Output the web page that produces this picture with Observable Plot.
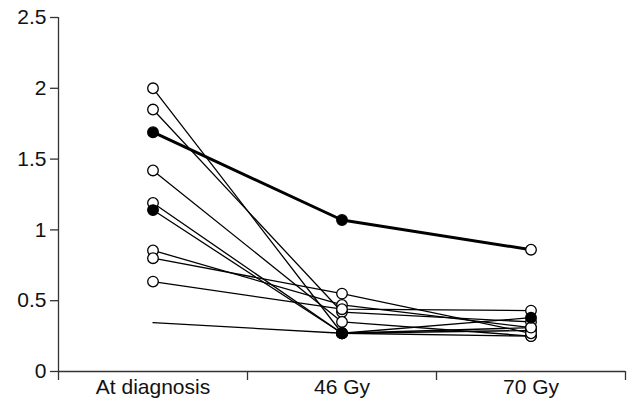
<!DOCTYPE html>
<html>
<head>
<meta charset="utf-8">
<script src="https://cdn.jsdelivr.net/npm/d3@7"></script>
<script src="https://cdn.jsdelivr.net/npm/@observablehq/plot@0.6"></script>
<style>
  html, body { margin: 0; padding: 0; background: #fff; }
</style>
</head>
<body>
<div id="chart"></div>
<script>
// Categories and tick labels
const categories = ["At diagnosis", "46 Gy", "70 Gy"];
const yTicks = [0, 0.5, 1, 1.5, 2, 2.5];

// Series values (one entry per patient)
const atDiagnosis = [1.69, 2.00, 1.85, 1.42, 1.19, 1.14, 0.855, 0.80, 0.635, 0.345];
const gy46        = [1.07, 0.27, 0.42, 0.35, 0.27, 0.27, 0.47, 0.55, 0.44, 0.27];
const gy70        = [0.86, 0.29, 0.35, 0.25, 0.25, 0.38, 0.31, 0.27, 0.43, 0.31];

// Marker type per point
const markerDiag = ["filled", "open", "open", "open", "open", "filled", "open", "open", "open", "none"];
const marker46   = ["filled", "open", "open", "open", "open", "filled", "open", "open", "open", "open"];
const marker70   = ["open", "open", "open", "open", "open", "filled", "open", "open", "open", "open"];

// Which series is drawn with a bold line
const boldSeries = [0];

const columns = [atDiagnosis, gy46, gy70];
const markers = [markerDiag, marker46, marker70];
const rows = [];
atDiagnosis.forEach((_, i) => {
  columns.forEach((col, j) => {
    rows.push({series: i, x: j + 0.5, y: col[i], marker: markers[j][i], bold: boldSeries.includes(i)});
  });
});

const chart = Plot.plot({
  width: 634,
  height: 410,
  marginLeft: 58,
  marginRight: 9,
  marginTop: 17,
  marginBottom: 39,
  style: {fontFamily: "'Liberation Sans', Arial, sans-serif", fontSize: "21px", color: "#111", background: "#fff"},
  x: {domain: [0, categories.length], axis: null},
  y: {domain: [0, 2.5], axis: null},
  marks: [
    Plot.ruleX([0], {y1: 0, y2: 2.5, stroke: "#333", strokeWidth: 1.3}),
    Plot.ruleY([0], {x1: 0, x2: categories.length, stroke: "#333", strokeWidth: 1.3}),
    Plot.axisY({ticks: yTicks, tickFormat: d => String(d), tickSize: 8, tickPadding: 4, stroke: "#333", strokeWidth: 1.3, fontSize: 21, label: null}),
    Plot.axisX({ticks: d3.range(categories.length + 1), tickFormat: () => "", tickSize: 9, stroke: "#333", strokeWidth: 1.3, label: null}),
    Plot.axisX({ticks: categories.map((_, i) => i + 0.5), tickFormat: d => categories[d - 0.5], tickSize: 0, tickPadding: 8, fontSize: 21, label: null}),
    Plot.line(rows.filter(d => !d.bold), {x: "x", y: "y", z: "series", stroke: "#000", strokeWidth: 1.3}),
    Plot.line(rows.filter(d => d.bold), {x: "x", y: "y", z: "series", stroke: "#000", strokeWidth: 3}),
    Plot.dot(rows.filter(d => d.marker === "open"), {x: "x", y: "y", r: 5.3, fill: "#fff", stroke: "#000", strokeWidth: 1.3}),
    Plot.dot(rows.filter(d => d.marker === "filled"), {x: "x", y: "y", r: 5.3, fill: "#000", stroke: "#000", strokeWidth: 1.3})
  ]
});
document.getElementById("chart").appendChild(chart);
</script>
</body>
</html>
